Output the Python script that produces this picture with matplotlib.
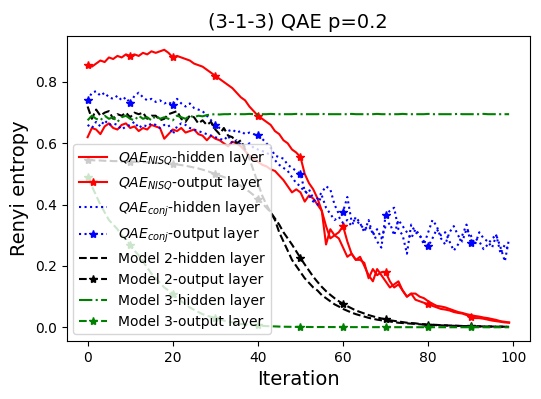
import matplotlib
matplotlib.use('Agg')
from matplotlib import pyplot as plt

iterations = list(range(100))

# QAE_NISQ
nisq_hidden = [
    0.62, 0.65, 0.645, 0.63, 0.655, 0.665, 0.65, 0.645, 0.66, 0.665,
    0.65, 0.655, 0.64, 0.65, 0.645, 0.66, 0.655, 0.65, 0.615, 0.63,
    0.645, 0.64, 0.65, 0.635, 0.64, 0.645, 0.63, 0.625, 0.61, 0.625,
    0.615, 0.61, 0.60, 0.59, 0.605, 0.60, 0.59, 0.575, 0.56, 0.55,
    0.54, 0.53, 0.525, 0.515, 0.51, 0.495, 0.48, 0.46, 0.44, 0.45,
    0.44, 0.41, 0.43, 0.42, 0.40, 0.38, 0.27, 0.32, 0.30, 0.29,
    0.26, 0.23, 0.24, 0.22, 0.23, 0.20, 0.17, 0.15, 0.19, 0.17,
    0.15, 0.13, 0.14, 0.15, 0.12, 0.10, 0.11, 0.11, 0.10, 0.095,
    0.085, 0.077, 0.07, 0.068, 0.065, 0.06, 0.055, 0.05, 0.047, 0.043,
    0.04, 0.037, 0.035, 0.032, 0.03, 0.027, 0.024, 0.02, 0.018, 0.016,
]
nisq_output = [
    0.855, 0.85, 0.86, 0.87, 0.865, 0.88, 0.875, 0.885, 0.88, 0.89,
    0.885, 0.89, 0.885, 0.895, 0.89, 0.90, 0.895, 0.90, 0.905, 0.895,
    0.88, 0.885, 0.88, 0.875, 0.87, 0.86, 0.855, 0.85, 0.84, 0.83,
    0.82, 0.81, 0.80, 0.79, 0.78, 0.765, 0.75, 0.74, 0.72, 0.705,
    0.69, 0.68, 0.67, 0.66, 0.64, 0.63, 0.61, 0.60, 0.58, 0.57,
    0.555, 0.50, 0.47, 0.45, 0.42, 0.38, 0.33, 0.29, 0.30, 0.31,
    0.33, 0.28, 0.24, 0.22, 0.22, 0.21, 0.16, 0.19, 0.17, 0.18,
    0.18, 0.15, 0.13, 0.14, 0.12, 0.10, 0.11, 0.09, 0.085, 0.08,
    0.075, 0.07, 0.065, 0.06, 0.058, 0.055, 0.05, 0.047, 0.045, 0.04,
    0.035, 0.03, 0.03, 0.028, 0.025, 0.022, 0.02, 0.018, 0.016, 0.015,
]

# QAE_conj
conj_hidden = [
    0.66, 0.65, 0.67, 0.655, 0.675, 0.66, 0.665, 0.66, 0.645, 0.655,
    0.66, 0.67, 0.65, 0.66, 0.655, 0.665, 0.66, 0.65, 0.66, 0.66,
    0.63, 0.655, 0.665, 0.66, 0.65, 0.645, 0.64, 0.635, 0.63, 0.625,
    0.62, 0.615, 0.61, 0.625, 0.60, 0.61, 0.595, 0.59, 0.60, 0.585,
    0.58, 0.575, 0.57, 0.56, 0.545, 0.53, 0.52, 0.51, 0.49, 0.47,
    0.46, 0.44, 0.45, 0.42, 0.40, 0.43, 0.39, 0.37, 0.35, 0.36,
    0.34, 0.35, 0.33, 0.36, 0.34, 0.31, 0.35, 0.30, 0.32, 0.29,
    0.33, 0.34, 0.30, 0.35, 0.33, 0.31, 0.29, 0.32, 0.30, 0.27,
    0.31, 0.35, 0.33, 0.29, 0.27, 0.31, 0.33, 0.30, 0.28, 0.32,
    0.30, 0.27, 0.31, 0.29, 0.28, 0.26, 0.30, 0.24, 0.27, 0.25,
]
conj_output = [
    0.74, 0.765, 0.77, 0.755, 0.765, 0.75, 0.745, 0.755, 0.74, 0.75,
    0.73, 0.755, 0.765, 0.75, 0.74, 0.745, 0.735, 0.74, 0.73, 0.735,
    0.725, 0.745, 0.73, 0.72, 0.73, 0.715, 0.71, 0.705, 0.69, 0.675,
    0.66, 0.65, 0.645, 0.64, 0.645, 0.635, 0.64, 0.63, 0.635, 0.63,
    0.626, 0.615, 0.60, 0.585, 0.56, 0.555, 0.55, 0.53, 0.52, 0.51,
    0.50, 0.445, 0.43, 0.41, 0.42, 0.44, 0.46, 0.45, 0.40, 0.37,
    0.377, 0.425, 0.345, 0.35, 0.335, 0.32, 0.33, 0.31, 0.28, 0.26,
    0.367, 0.38, 0.39, 0.32, 0.30, 0.24, 0.335, 0.31, 0.30, 0.28,
    0.264, 0.29, 0.32, 0.30, 0.31, 0.28, 0.25, 0.27, 0.30, 0.335,
    0.274, 0.29, 0.28, 0.255, 0.27, 0.29, 0.30, 0.26, 0.215, 0.29,
]

# Model 2
m2_hidden = [
    0.72, 0.68, 0.71, 0.69, 0.70, 0.705, 0.68, 0.695, 0.69, 0.70,
    0.685, 0.70, 0.695, 0.70, 0.68, 0.69, 0.69, 0.675, 0.68, 0.695,
    0.70, 0.705, 0.68, 0.67, 0.69, 0.685, 0.665, 0.675, 0.66, 0.67,
    0.645, 0.63, 0.65, 0.625, 0.62, 0.60, 0.61, 0.58, 0.55, 0.51,
    0.47, 0.43, 0.40, 0.375, 0.35, 0.31, 0.28, 0.25, 0.22, 0.20,
    0.18, 0.16, 0.145, 0.13, 0.12, 0.105, 0.095, 0.085, 0.075, 0.068,
    0.06, 0.054, 0.048, 0.043, 0.039, 0.035, 0.031, 0.028, 0.025, 0.023,
    0.021, 0.019, 0.017, 0.015, 0.014, 0.013, 0.012, 0.011, 0.01, 0.009,
    0.0085, 0.008, 0.007, 0.0065, 0.006, 0.0055, 0.005, 0.0045, 0.0042, 0.004,
    0.0037, 0.0034, 0.0031, 0.0029, 0.0027, 0.0025, 0.0023, 0.0021, 0.002, 0.0018,
]
m2_output = [
    0.545, 0.545, 0.544, 0.544, 0.543, 0.543, 0.542, 0.542, 0.541, 0.541,
    0.540, 0.540, 0.539, 0.539, 0.538, 0.537, 0.536, 0.535, 0.535, 0.534,
    0.533, 0.531, 0.529, 0.527, 0.524, 0.521, 0.518, 0.514, 0.510, 0.505,
    0.50, 0.495, 0.49, 0.484, 0.477, 0.47, 0.461, 0.452, 0.442, 0.431,
    0.42, 0.405, 0.39, 0.375, 0.355, 0.335, 0.31, 0.29, 0.27, 0.248,
    0.226, 0.205, 0.185, 0.165, 0.148, 0.132, 0.118, 0.106, 0.095, 0.085,
    0.077, 0.069, 0.062, 0.055, 0.05, 0.045, 0.04, 0.036, 0.032, 0.029,
    0.026, 0.023, 0.021, 0.019, 0.017, 0.015, 0.014, 0.013, 0.011, 0.01,
    0.009, 0.0085, 0.008, 0.007, 0.0065, 0.006, 0.0055, 0.005, 0.0045, 0.004,
    0.0038, 0.0035, 0.0032, 0.003, 0.0028, 0.0026, 0.0024, 0.0022, 0.002, 0.0019,
]

# Model 3
m3_hidden = [
    0.675, 0.69, 0.68, 0.675, 0.69, 0.68, 0.685, 0.67, 0.685, 0.69,
    0.68, 0.675, 0.69, 0.68, 0.685, 0.675, 0.69, 0.68, 0.685, 0.68,
    0.675, 0.69, 0.685, 0.68, 0.69, 0.685, 0.69, 0.688, 0.692, 0.694,
    0.695, 0.694, 0.695, 0.695, 0.696, 0.695, 0.695, 0.695, 0.696, 0.695,
    0.695, 0.695, 0.695, 0.696, 0.695, 0.695, 0.695, 0.695, 0.695, 0.696,
    0.695, 0.695, 0.695, 0.695, 0.695, 0.696, 0.695, 0.695, 0.695, 0.695,
    0.695, 0.695, 0.696, 0.695, 0.695, 0.695, 0.695, 0.695, 0.696, 0.695,
    0.695, 0.695, 0.695, 0.695, 0.696, 0.695, 0.695, 0.695, 0.695, 0.695,
    0.696, 0.695, 0.695, 0.695, 0.695, 0.695, 0.695, 0.696, 0.695, 0.695,
    0.695, 0.695, 0.695, 0.696, 0.695, 0.695, 0.695, 0.695, 0.695, 0.695,
]
m3_output = [
    0.49, 0.46, 0.43, 0.40, 0.375, 0.35, 0.335, 0.32, 0.30, 0.285,
    0.27, 0.25, 0.235, 0.215, 0.195, 0.175, 0.16, 0.145, 0.13, 0.12,
    0.11, 0.095, 0.085, 0.075, 0.065, 0.057, 0.05, 0.043, 0.038, 0.034,
    0.03, 0.026, 0.022, 0.019, 0.016, 0.013, 0.011, 0.009, 0.008, 0.007,
    0.006, 0.005, 0.004, 0.0035, 0.003, 0.0025, 0.002, 0.0018, 0.0016, 0.0014,
    0.0013, 0.0012, 0.0011, 0.001, 0.001, 0.001, 0.0009, 0.0009, 0.0009, 0.0008,
    0.0008, 0.0008, 0.0007, 0.0007, 0.0007, 0.0007, 0.0006, 0.0006, 0.0006, 0.0006,
    0.0006, 0.0005, 0.0005, 0.0005, 0.0005, 0.0005, 0.0005, 0.0004, 0.0004, 0.0004,
    0.0004, 0.0004, 0.0004, 0.0004, 0.0003, 0.0003, 0.0003, 0.0003, 0.0003, 0.0003,
    0.0003, 0.0003, 0.0003, 0.0003, 0.0002, 0.0002, 0.0002, 0.0002, 0.0002, 0.0002,
]

fig, ax = plt.subplots(figsize=(5.41, 3.99), dpi=100)
fig.subplots_adjust(left=0.123, right=0.98, top=0.91, bottom=0.145)

ax.plot(iterations, nisq_hidden, 'r-', label='$QAE_{NISQ}$-hidden layer')
ax.plot(iterations, nisq_output, 'r-*', markevery=10, label='$QAE_{NISQ}$-output layer')
ax.plot(iterations, conj_hidden, 'b:', label='$QAE_{conj}$-hidden layer')
ax.plot(iterations, conj_output, 'b:*', markevery=10, label='$QAE_{conj}$-output layer')
ax.plot(iterations, m2_hidden, 'k--', label='Model 2-hidden layer')
ax.plot(iterations, m2_output, 'k--*', markevery=10, label='Model 2-output layer')
ax.plot(iterations, m3_hidden, 'g-.', label='Model 3-hidden layer')
ax.plot(iterations, m3_output, 'g--*', markevery=10, label='Model 3-output layer')

ax.set_title('(3-1-3) QAE p=0.2', fontsize=14)
ax.set_xlabel('Iteration', fontsize=14)
ax.set_ylabel('Renyi entropy', fontsize=14)
ax.legend(loc='lower left')

fig.savefig('out.png')
